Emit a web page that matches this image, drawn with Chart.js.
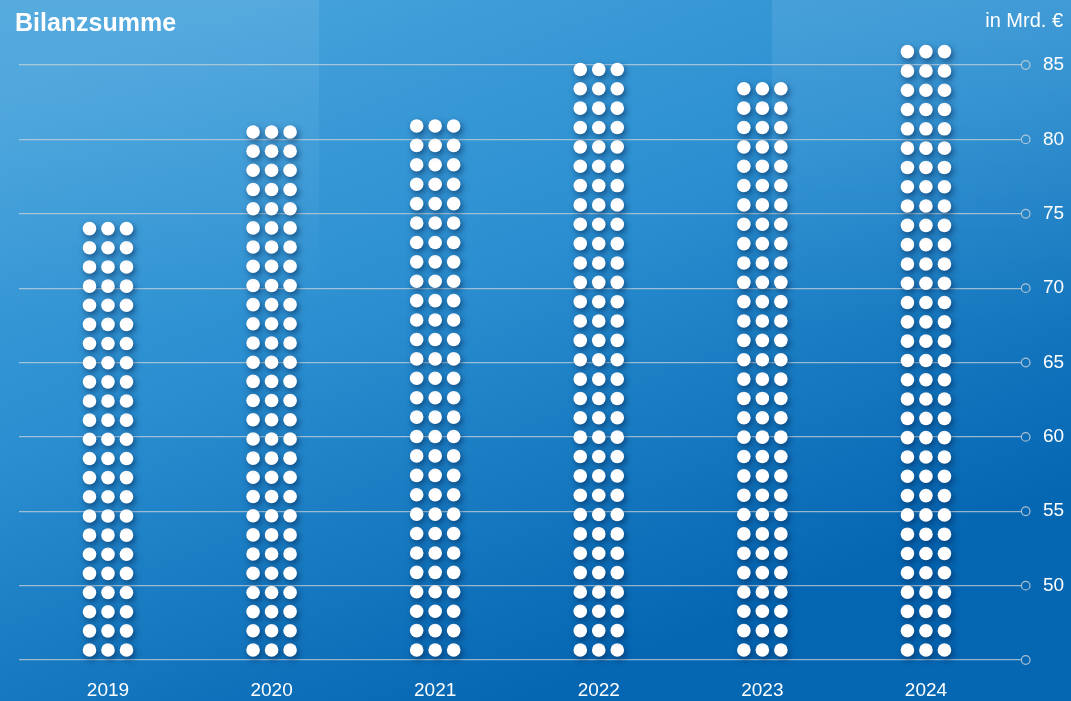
<!DOCTYPE html>
<html>
<head>
<meta charset="utf-8">
<script src="https://cdn.jsdelivr.net/npm/chart.js@4"></script>
<style>
html, body { margin: 0; padding: 0; overflow: hidden; background: #2a8fd0; }
canvas { display: block; }
</style>
</head>
<body>
<canvas id="myChart" width="1071" height="701"></canvas>
<script>
const years = ['2019', '2020', '2021', '2022', '2023', '2024'];
const totals = [74.0, 80.5, 80.9, 84.7, 83.4, 85.9];
const yTicks = [45, 50, 55, 60, 65, 70, 75, 80, 85];
const chartTitle = 'Bilanzsumme';
const unitLabel = 'in Mrd. €';

const FONT = '"Liberation Sans", Arial, Helvetica, sans-serif';

// blue backdrop with the two lighter panels at the top
const backdrop = {
    id: 'backdrop',
    beforeDraw(chart) {
        const {ctx, width, height} = chart;
        ctx.save();
        let g = ctx.createLinearGradient(250, 0, 520, height);
        g.addColorStop(0, '#45a2db');
        g.addColorStop(0.45, '#2a8ed0');
        g.addColorStop(1, '#0566b2');
        ctx.fillStyle = g;
        ctx.fillRect(0, 0, width, height);

        let p = ctx.createLinearGradient(0, 0, 0, 330);
        p.addColorStop(0, 'rgba(255,255,255,0.09)');
        p.addColorStop(1, 'rgba(255,255,255,0)');
        ctx.fillStyle = p;
        ctx.fillRect(0, 0, 319, 330);
        ctx.fillRect(772, 0, width - 772, 330);
        ctx.restore();
    }
};

// columns of white dots in place of each bar, plus circles at grid ends and texts
const dots = {
    id: 'dots',
    afterDatasetsDraw(chart) {
        const {ctx} = chart;
        const meta = chart.getDatasetMeta(0);
        const base = chart.scales.y.getPixelForValue(yTicks[0]);
        ctx.save();
        ctx.fillStyle = '#ffffff';
        ctx.shadowColor = 'rgba(0, 35, 80, 0.6)';
        ctx.shadowBlur = 6;
        ctx.shadowOffsetX = 2;
        ctx.shadowOffsetY = 3;
        meta.data.forEach(bar => {
            const bottom = base - 10;
            const top = bar.y;
            const rows = Math.round((bottom - top) / 19.3) + 1;
            const step = (bottom - top) / (rows - 1);
            for (let r = 0; r < rows; r++) {
                const cy = bottom - r * step;
                for (let c = -1; c <= 1; c++) {
                    ctx.beginPath();
                    ctx.arc(bar.x + c * 18.5, cy, 6.8, 0, Math.PI * 2);
                    ctx.fill();
                }
            }
        });
        ctx.restore();
    },
    afterDraw(chart) {
        const {ctx, chartArea} = chart;
        const y = chart.scales.y;
        ctx.save();
        ctx.strokeStyle = 'rgba(210, 214, 218, 0.8)';
        ctx.lineWidth = 1.2;
        y.ticks.forEach(t => {
            const py = y.getPixelForValue(t.value);
            ctx.beginPath();
            ctx.arc(chartArea.right + 4.7, py, 4.3, 0, Math.PI * 2);
            ctx.stroke();
        });

        ctx.fillStyle = '#ffffff';
        ctx.textBaseline = 'alphabetic';
        ctx.font = 'bold 25px ' + FONT;
        ctx.textAlign = 'left';
        ctx.fillText(chartTitle, 15, 31);
        ctx.font = '20px ' + FONT;
        ctx.textAlign = 'right';
        ctx.fillText(unitLabel, 1063, 27);
        ctx.restore();
    }
};

const ctx = document.getElementById('myChart');

new Chart(ctx, {
    type: 'bar',
    data: {
        datasets: [{
            label: chartTitle,
            data: years.map((yr, i) => ({x: i, y: totals[i]})),
            backgroundColor: 'rgba(0,0,0,0)',
            borderWidth: 0
        }]
    },
    options: {
        responsive: false,
        animation: false,
        devicePixelRatio: 1,
        events: [],
        layout: { padding: { top: 65, left: 19, right: 0, bottom: 0 } },
        plugins: {
            legend: { display: false },
            title: { display: false },
            tooltip: { enabled: false }
        },
        scales: {
            x: {
                type: 'linear',
                offset: false,
                min: -0.544,
                max: 5.581,
                afterBuildTicks: scale => {
                    scale.ticks = years.map((yr, i) => ({value: i}));
                },
                afterFit: scale => { scale.height = 41; },
                grid: { display: false, offset: false },
                border: { display: false },
                ticks: {
                    callback: v => years[v],
                    color: '#ffffff',
                    font: { family: FONT, size: 19 },
                    padding: 11,
                    maxRotation: 0,
                    autoSkip: false
                }
            },
            y: {
                position: 'right',
                min: 45,
                max: 85,
                afterBuildTicks: scale => {
                    scale.ticks = yTicks.map(v => ({value: v}));
                },
                afterFit: scale => { scale.width = 50; },
                grid: {
                    color: 'rgba(210, 214, 218, 0.7)',
                    lineWidth: 1.2,
                    drawTicks: false
                },
                border: { display: false },
                ticks: {
                    callback: v => (v === yTicks[0] ? '' : v),
                    color: '#ffffff',
                    font: { family: FONT, size: 19 },
                    padding: 22
                }
            }
        }
    },
    plugins: [backdrop, dots]
});
</script>
</body>
</html>
